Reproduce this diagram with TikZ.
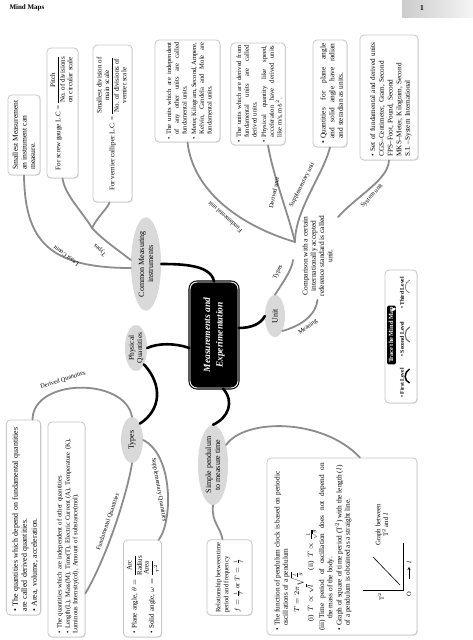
\RequirePackage{fix-cm}
\documentclass[tikz,border=0pt]{standalone}
\usepackage{amsmath}
\usepackage{fontspec}
\setmainfont{Liberation Serif}
\usetikzlibrary{calc,shapes.geometric,shadows}
\newcommand\bitem[1]{\par\hangindent=5pt\hangafter=1\noindent\makebox[5pt][l]{\textbullet}#1\par}
\begin{document}
\begin{tikzpicture}[x=1pt,y=1pt,
  box/.style={draw=black!22, line width=0.8pt, rounded corners=4pt, fill=white,
    drop shadow={opacity=0.3,shadow xshift=0.7pt,shadow yshift=-0.7pt},
    inner sep=2.5pt, font=\fontsize{6.6}{7.8}\selectfont},
  ell/.style={ellipse, fill=black!15, inner sep=0pt, align=center, font=\fontsize{8}{9}\selectfont},
  blk/.style={line width=2.6pt, line cap=round},
  gry/.style={line width=1.8pt, black!45, line cap=round},
  lbl/.style={font=\fontsize{6.2}{7}\selectfont, inner sep=0.5pt},
  lev/.style={font=\bfseries\fontsize{5.6}{6}\selectfont, inner sep=0.5pt},
]
\useasboundingbox (0,-640) rectangle (473,0);
\fill[white] (0,-640) rectangle (473,0);
\shade[left color=black!20, right color=black!4] (402,0) rectangle (473,-17);
\node[anchor=west, font=\bfseries\fontsize{7}{8}\selectfont] (hdr) at (6,-8) {Mind Maps};
\node[font=\bfseries\fontsize{7.5}{8}\selectfont] (pgno) at (422,-8.5) {1};

\begin{scope}[shift={(473,-640)}, rotate=90, transform shape]
% ---------- central node and level-1 ellipses
\node[fill=black, draw=black, double=white, double distance=0.9pt, line width=1.1pt,
  rounded corners=7pt, minimum width=106, minimum height=48, text=white, align=center,
  font=\bfseries\itshape\fontsize{9.5}{12.5}\selectfont] (c) at (305,259) {Measurements and\\Experimentation};
\node[ell, minimum width=80, minimum height=30] (cmi) at (376,327) {Common Measuring\\instruments};
\node[ell, minimum width=46, minimum height=22, font=\fontsize{7.4}{8.2}\selectfont] (pq) at (292,337) {Physical\\Quantities};
\node[ell, minimum width=46, minimum height=22] (types) at (200,341) {Types};
\node[ell, minimum width=80, minimum height=30] (sp) at (175,260) {Simple pendulum\\to measure time};
\node[ell, minimum width=42, minimum height=20] (unit) at (324,198) {Unit};

% ---------- boxes
\node[box, minimum width=80, minimum height=32, align=left, font=\fontsize{7.6}{8.6}\selectfont] (sm) at (505,449)
  {Smallest Measurement\\an instrument can\\measure.};
\node[box, minimum width=130, minimum height=31, font=\fontsize{7}{7.4}\selectfont] (scr) at (527,410.5)
  {For screw gauge L.C = $\dfrac{\text{Pitch}}{\text{\begin{tabular}{@{}c@{}}No. of divisions\\on circular scale\end{tabular}}}$};
\node[box, minimum width=157, minimum height=39, font=\fontsize{7}{7.4}\selectfont] (vern) at (516.5,360.5)
  {For vernier calliper L.C. = $\dfrac{\text{\begin{tabular}{@{}c@{}}Smallest division of\\main scale\end{tabular}}}{\text{\begin{tabular}{@{}c@{}}No. of divisions of\\vernier scale\end{tabular}}}$};
\node[box, minimum width=102, minimum height=65, text width=97, align=justify] (fu) at (549,285.5)
  {\bitem{The units which are independent\linebreak of any other units are called\linebreak fundamental units.}\vspace{1.5pt}
   \bitem{Meter, Kilogram, Second, Ampere,\linebreak Kelvin, Candela and Mole are\linebreak fundamental units.}};
\node[box, minimum width=102, minimum height=36, text width=97, align=justify] (du) at (546,215)
  {\bitem{The units which are derived from\linebreak fundamental units are called\linebreak derived units.}\vspace{1.5pt}
   \bitem{Physical quantity like speed,\linebreak acceleration have derived units\linebreak like m/s, m/s$^2$.}};
\node[box, minimum width=107, minimum height=34, text width=100, align=justify, font=\fontsize{7.4}{8.6}\selectfont] (su) at (546.5,143)
  {\bitem{Quantities for plane angle\linebreak and solid angle have radian\linebreak and steradian as units.}};
\node[box, minimum width=125, minimum height=58, text width=118, align=left, font=\fontsize{7.2}{8.7}\selectfont] (sys) at (542.5,84)
  {\bitem{Set of fundamental and derived units\\CGS--Centimeter, Gram, Second\\FPS--Foot, Pound, Second\\MKS--Meter, Kilogram, Second\\S.I. --System International}};
\node[font=\fontsize{7.4}{8.2}\selectfont, align=center] (cmp) at (384,155.5)
  {Comparison with a certain\\internationally accepted\\reference standard is called\\unit.};
\node[box, minimum width=195, minimum height=33, text width=188, align=left, font=\fontsize{7.9}{9}\selectfont] (dq) at (122.5,449.5)
  {\bitem{The quantities which depend on fundamental quantities\\are called derived quantities.}\vspace{1pt}
   \bitem{Area, volume, acceleration.}};
\node[box, minimum width=215, minimum height=37, text width=208, align=left, font=\fontsize{6.6}{7.6}\selectfont] (fq) at (110.5,406.5)
  {\bitem{The quantities which are independent of other quantities}\vspace{0.5pt}
   \bitem{Length(L), Mass(M), Time(T), Electric Current (A), Temperature (K),\\Luminous Intensity(cd), Amount of substance(mol).}};
\node[box, minimum width=97, minimum height=35, text width=90, align=left, font=\fontsize{7}{8}\selectfont] (sq) at (51.5,330.5)
  {\bitem{Plane angle, $\theta=\dfrac{\text{Arc}}{\text{Radius}}$}\vspace{1pt}
   \bitem{Solid angle, $\omega=\dfrac{\text{Area}}{r^2}$}};
\node[box, minimum width=69, minimum height=45, align=left, font=\fontsize{6.6}{8}\selectfont] (rel) at (62.5,243.5)
  {Relationship between time\\period and frequency\\[3pt]$f=\frac{1}{T}$ or $T=\frac{1}{f}$};
\node[box, minimum width=177, minimum height=150] (big) at (93.5,131) {};
\node[anchor=north west, text width=168, inner sep=0pt, align=justify, font=\fontsize{7.3}{8.3}\selectfont] (bigt) at (9,202)
  {\bitem{The function of pendulum clock is based on periodic\\oscillations of a pendulum}
   \noindent\hspace*{18pt}$T=2\pi\sqrt{\frac{l}{g}}$\par\vspace{1pt}
   \noindent\hspace*{9pt}(i)\ \ $T\propto\sqrt{l}$\hspace{14pt}(ii)\ \ $T\propto\frac{1}{\sqrt{g}}$\par\vspace{1pt}
   \hangindent=12pt\hangafter=1\noindent(iii)\,Time period of oscillation does not depend on\linebreak the mass of the body.\par\vspace{1pt}
   \bitem{Graph of square of time period (T$^2$) with the length ($l$)\\of a pendulum is obtained as a straight line.}};
% graph
\coordinate (go) at (50,70);
\coordinate (gy) at (50,110);
\coordinate (gx) at (97,70);
\draw[line width=0.6pt] (gy) -- (go) -- (gx);
\coordinate (d1) at (55,73);
\coordinate (d2) at (83,100);
\draw[line width=0.6pt] (d1) -- (d2);
\node[font=\fontsize{6.5}{7}\selectfont] (gO) at (46,64) {O};
\node[font=\fontsize{6.5}{7}\selectfont] (gT) at (43,92) {T$^2$};
\node[font=\fontsize{6.5}{7}\selectfont] (gl) at (78,64) {$l$};
\coordinate (ga) at (61,64);
\draw[-stealth, line width=0.5pt] (ga) -- (gl.west);
\node[font=\fontsize{6.8}{7.8}\selectfont, align=center] (gcap) at (115,91) {Graph between\\T$^2$ and $l$};
% legend
\node[box, minimum width=133, minimum height=32] (leg) at (303.5,72) {};
\node[fill=black, text=white, rounded corners=1.5pt, inner sep=1.6pt, font=\bfseries\fontsize{6.3}{7}\selectfont] (legt) at (305,81.5) {Trace the Mind Map\hspace{6pt}};
\fill[white, rotate around={30:($(legt.east)+(-4.5,0)$)}] ($(legt.east)+(-4.5,0)$) ellipse (1.3 and 2.3);
\node[lev] (lv1) at (257,71) {\textbullet\ First Level};
\node[lev] (lv2) at (301,71) {\textbullet\ Second Level};
\node[lev] (lv3) at (347,71) {\textbullet\ Third Level};
\draw[line width=1.5pt] ($(lv1.south)+(0,-5)$) .. controls +(2,6) and +(-3,6) .. ($(lv1.south)+(14,-5)$);
\draw[line width=1pt, black!60] ($(lv2.south)+(-3,-5)$) .. controls +(2,6) and +(-3,6) .. ($(lv2.south)+(12,-5)$);
\draw[line width=0.6pt, black!60] ($(lv3.south)+(0,-5)$) .. controls +(2,6) and +(-3,6) .. ($(lv3.south)+(13,-5)$);

% ---------- level-1 connectors (black)
\draw[blk] (c.east) .. controls (375,262) and (376,290) .. (cmi.south);
\draw[blk] ($(c.north)+(-13,0)$) .. controls (297,298) and (297,315) .. (pq.south);
\draw[blk] (pq.south west) .. controls (255,310) and (230,312) .. (types.south east);
\draw[blk] ($(c.south)+(7,0)$) .. controls (312,222) and (316,212) .. (unit.north);
\draw[blk] ($(c.west)+(0,-9)$) .. controls (238,238) and (222,245) .. (sp.east);

% ---------- gray connectors
\coordinate (sp1) at (412,381);
\coordinate (hub) at (398,178);
\coordinate (t1) at (380,180);
\draw[gry] ($(cmi.north)+(-4,0)$) .. controls (372,425) and (400,448) .. (sm.west);
\draw[gry] ($(cmi.north)+(4,0)$) .. controls (390,355) and (400,370) .. (sp1);
\draw[gry] (sp1) .. controls (430,392) and (445,408) .. (scr.west);
\draw[gry] (sp1) .. controls (424,375) and (432,365) .. ($(vern.west)+(0,3)$);
\draw[gry] (unit.east) .. controls (358,190) and (370,181) .. (t1);
\draw[gry] (unit.south west) .. controls (314,172) and (325,157) .. (cmp.west);
\draw[gry] (hub) .. controls (415,235) and (450,280) .. (fu.west);
\draw[gry] (hub) .. controls (430,186) and (465,200) .. ($(du.west)+(0,-10)$);
\draw[gry] (hub) .. controls (430,178) and (465,150) .. (su.west);
\draw[gry] ($(cmp.south east)+(-5,-2)$) .. controls (445,115) and (460,85) .. (sys.west);
\draw[gry] (types.east) .. controls (263,348) and (262,440) .. ($(dq.east)+(0,-9)$);
\draw[gry] (types.west) .. controls (150,345) and (85,365) .. ($(fq.south west)+(44,0)$);
\draw[gry] (types.south) .. controls (185,300) and (120,300) .. ($(sq.south east)+(0,3)$);
\draw[gry] (sp.west) .. controls (118,262) and (112,252) .. ($(rel.east)+(0,7)$);
\draw[gry] ($(sp)+(20,-13)$) .. controls (222,228) and (222,150) .. ($(big.east)+(0,-18)$);

% ---------- branch labels
\node[lbl, rotate=53] (lLC) at (384,407) {Least Count};
\node[lbl, rotate=45] (lT1) at (390,373) {Types};
\node[lbl, rotate=48] (lFU) at (423,248) {Fundamental unit};
\node[lbl, rotate=-12] (lDU) at (447,199) {Derived unit};
\node[lbl, rotate=-27] (lSU) at (455,171) {Supplementary unit};
\node[lbl, rotate=-42] (lSY) at (444,101) {System unit};
\node[lbl, rotate=-53] (lME) at (313,165) {Meaning};
\node[lbl, rotate=-25] (lT2) at (368,195) {Types};
\node[lbl, rotate=-72] (lDQ) at (260,410) {Derived Quantities};
\node[lbl, rotate=-19] (lFQ) at (118,365) {Fundamental Quantities};
\node[lbl, rotate=190] (lSQ) at (150,314) {Supplementary Quantities};
\end{scope}
\end{tikzpicture}
\end{document}
